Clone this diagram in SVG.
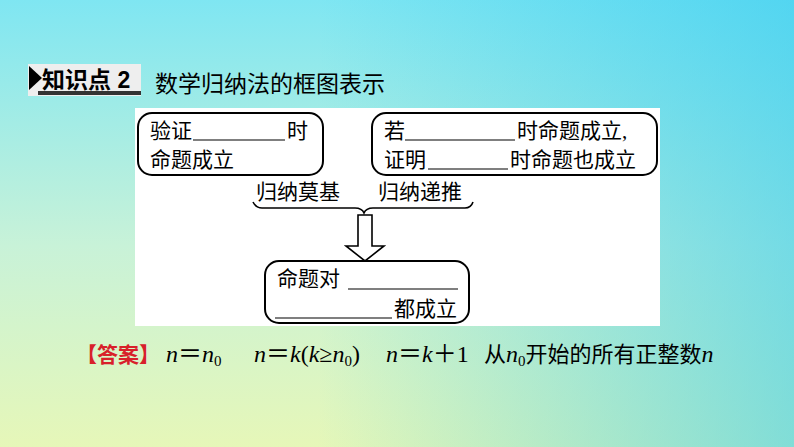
<svg xmlns="http://www.w3.org/2000/svg" width="794" height="447" viewBox="0 0 794 447">
<defs>
<linearGradient id="bg" x1="0" y1="0" x2="0" y2="1">
<stop offset="0" stop-color="#7fe6f2"/><stop offset="0.55" stop-color="#c8f2d8"/><stop offset="1" stop-color="#e6f7b8"/>
</linearGradient>
<linearGradient id="bg2" x1="0" y1="0" x2="1" y2="0">
<stop offset="0.4" stop-color="#2ec8f0" stop-opacity="0"/><stop offset="1" stop-color="#2ec8f0" stop-opacity="0.55"/>
</linearGradient>
<style>
.t{font-family:"Liberation Serif","Noto Sans CJK SC",serif;font-size:21px;fill:#000}
.h{font-family:"Liberation Sans","Noto Sans CJK SC",sans-serif;font-size:23px;fill:#000}
.m{font-family:"Liberation Serif","Noto Sans CJK SC",serif;font-size:24px;font-style:italic}
.c{font-style:normal;font-family:"Noto Sans CJK SC",sans-serif;font-size:22px}
.s{font-size:15px;font-style:normal}
.bx{fill:#fff;stroke:#000;stroke-width:2}
.ln{stroke:#000;stroke-width:1.2}
</style>
</defs>
<rect width="794" height="447" fill="url(#bg)"/>
<rect width="794" height="447" fill="url(#bg2)"/>
<g id="heading">
<rect x="28" y="64" width="113" height="32" fill="#eeeeee"/>
<rect x="38" y="91" width="103" height="4" fill="#333"/>
<polygon points="29,66 29,90 42,78" fill="#000"/>
<text x="42" y="88" class="h" font-weight="bold">知识点 2</text>
<text x="155" y="92" class="h">数学归纳法的框图表示</text>
</g>
<rect x="135" y="108" width="525" height="218" fill="#fff"/>
<g id="base">
<rect x="138" y="113" width="185" height="62" rx="14" class="bx"/>
<text x="150" y="138" class="t">验证</text><line x1="193" y1="140" x2="285" y2="140" class="ln"/><text x="287" y="138" class="t">时</text>
<text x="150" y="167" class="t">命题成立</text>
</g>
<g id="step">
<rect x="372" y="113" width="285" height="62" rx="14" class="bx"/>
<text x="384" y="138" class="t">若</text><line x1="405" y1="140" x2="515" y2="140" class="ln"/><text x="517" y="138" class="t">时命题成立,</text>
<text x="384" y="167" class="t">证明</text><line x1="428" y1="169" x2="508" y2="169" class="ln"/><text x="510" y="167" class="t">时命题也成立</text>
</g>
<g id="conclusion">
<rect x="265" y="261" width="204" height="62" rx="14" class="bx"/>
<text x="277" y="286" class="t">命题对</text><line x1="348" y1="289" x2="458" y2="289" class="ln"/>
<line x1="275" y1="318" x2="392" y2="318" class="ln"/><text x="394" y="316" class="t">都成立</text>
</g>
<g id="connectors" fill="none" stroke="#000" stroke-width="1.6">
<text x="256" y="199" class="t" stroke="none">归纳莫基</text>
<text x="378" y="199" class="t" stroke="none">归纳递推</text>
<path d="M253,202 Q256,208 262,208 L355,208 Q362,208 364,213 Q366,208 373,208 L465,208 Q471,208 473,202"/>
<polygon points="358,215 372,215 372,246 384,246 365,261 346,246 358,246" fill="#fff"/>
</g>
<g id="answer">
<text x="76" y="362" font-family="Liberation Sans,Noto Sans CJK SC,sans-serif" font-size="21" font-weight="bold" fill="#d8202a">【答案】</text>
<text x="166" y="362" class="m">n<tspan font-style="normal">＝</tspan>n<tspan class="s" dy="4">0</tspan></text>
<text x="254" y="362" class="m">n<tspan font-style="normal">＝</tspan>k<tspan font-style="normal">(</tspan>k<tspan font-style="normal">≥</tspan>n<tspan class="s" dy="4">0</tspan><tspan dy="-4" font-style="normal">)</tspan></text>
<text x="386" y="362" class="m">n<tspan font-style="normal">＝</tspan>k<tspan font-style="normal">＋1</tspan></text>
<text x="484" y="362" class="m"><tspan class="c">从</tspan>n<tspan class="s" dy="4">0</tspan><tspan dy="-4" class="c">开始的所有正整数</tspan>n</text>
</g>
</svg>
